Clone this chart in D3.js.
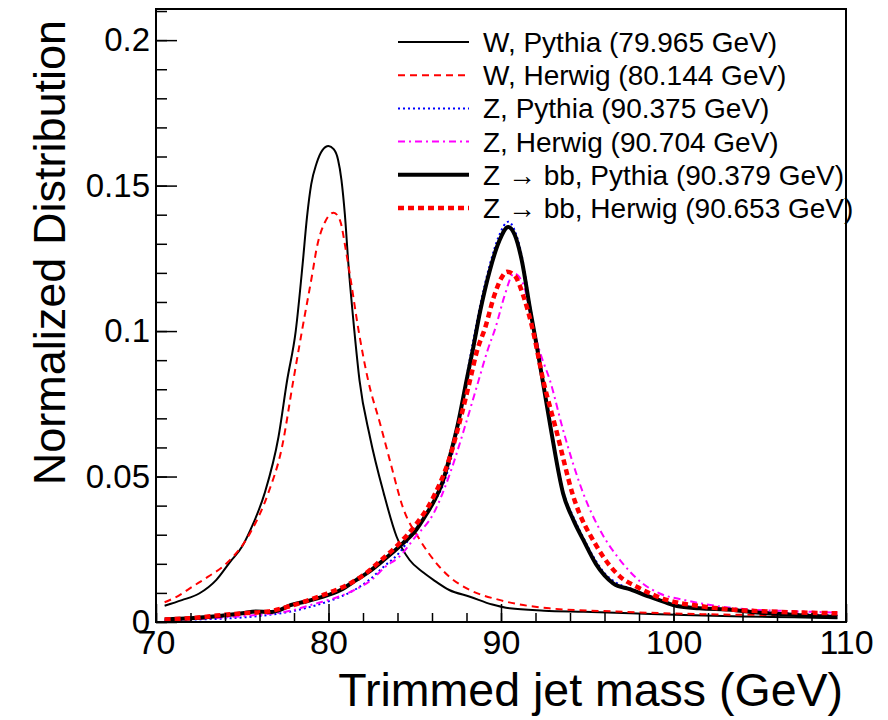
<!DOCTYPE html>
<html>
<head>
<meta charset="utf-8">
<script src="https://cdn.jsdelivr.net/npm/d3@7"></script>
<style>
  body { margin: 0; background: #fff; }
  text { font-family: "Liberation Sans", Arial, Helvetica, sans-serif; fill: #000; }
</style>
</head>
<body>
<svg id="chart" width="888" height="720"></svg>
<script>
// Series values: [mass (GeV), normalized entries]
const wPythia = [
  [70.5, .0056], [71.5, .0075], [72.5, .0098], [73.5, .0145], [74.3, .0207], [75.0, .026],
  [75.5, .032], [76.3, .0443], [77.1, .0636], [77.6, .083], [78.1, .100], [78.5, .123],
  [78.75, .139], [79.0, .1505], [79.3, .1575], [79.65, .1622], [80.0, .1636], [80.3, .1625],
  [80.55, .1590], [80.75, .152], [80.95, .140], [81.15, .1233], [81.5, .100], [81.8, .083],
  [82.4, .0637], [83.2, .0443], [83.95, .0293], [84.7, .0213], [85.5, .017], [86.1, .0144],
  [87.0, .011], [88.2, .0087], [89.5, .006], [90.5, .0047], [92.5, .0039], [94.8, .0035],
  [97.5, .003], [100.6, .0024], [104, .0019], [107, .0016], [109.5, .0013]
];
const wHerwig = [
  [70.5, .0068], [71.3, .009], [72.1, .0121], [73.0, .0155], [74.1, .0202], [75.45, .0305],
  [76.5, .0442], [77.3, .060], [77.96, .083], [78.46, .100], [79.1, .121], [79.3, .128],
  [79.8, .1375], [80.3, .1407], [80.67, .138], [81.0, .128], [81.25, .119], [81.75, .100],
  [82.3, .083], [83.0, .068], [83.6, .0546], [84.3, .0396], [85.3, .0282], [86.27, .0201],
  [87.0, .0156], [88.2, .011], [89.9, .0076], [92.8, .0047], [96.7, .0036], [102.5, .0026],
  [106, .0024], [109.5, .0022]
];
const zPythia = [
  [70.5, .0005], [72, .0008], [74, .0012], [75.5, .0018], [77, .0028], [78.5, .0045],
  [79.3, .0058], [80.5, .0082], [81.5, .011], [82.3, .0142], [83.2, .019], [84.2, .0245],
  [85.1, .0327], [86.1, .041], [86.7, .048], [87.1, .056], [87.5, .067], [88.0, .084],
  [88.4, .097], [88.8, .109], [89.36, .123], [89.9, .133], [90.42, .1376], [90.8, .1345],
  [91.2, .126], [91.7, .108], [92.1, .095], [92.5, .081], [92.9, .067], [93.6, .045],
  [94.2, .036], [94.77, .029], [95.5, .021], [96.0, .0168], [96.6, .0138], [97.5, .0115],
  [98.6, .009], [99.5, .007], [100.2, .0058], [101.5, .005], [103.5, .0043], [106, .0032],
  [108, .0026], [109.5, .0022]
];
const zHerwig = [
  [70.5, .0008], [72, .001], [74, .0016], [76, .0025], [77.5, .0035], [79.3, .0064],
  [80.5, .0085], [81.5, .011], [82.5, .0145], [83.3, .019], [84.1, .0224], [85.0, .029],
  [86.1, .0374], [87.04, .051], [87.9, .067], [88.7, .083], [89.2, .093], [89.7, .1015],
  [90.2, .112], [90.75, .1198], [91.3, .116], [91.85, .1015], [92.3, .092], [92.84, .083],
  [93.6, .066], [94.2, .054], [94.77, .0442], [95.74, .0316], [96.9, .0213], [98.2, .0133],
  [99.2, .0098], [100.6, .0076], [102.5, .0055], [104.4, .0043], [107, .0037], [109.5, .0032]
];
const zbbPythia = [
  [70.5, .0009], [72, .0013], [73.5, .002], [75, .003], [75.8, .0036], [76.6, .0034],
  [77.2, .0042], [77.8, .0058], [78.8, .0072], [79.7, .0087], [80.7, .011], [81.6, .0144],
  [82.4, .0175], [83.2, .0213], [84.3, .027], [85.0, .031], [85.7, .0373], [86.2, .0425],
  [86.65, .0488], [87.04, .057], [87.5, .068], [88.0, .083], [88.4, .0946], [88.8, .107],
  [89.36, .121], [89.9, .131], [90.42, .1358], [90.8, .133], [91.2, .1244], [91.7, .107],
  [92.1, .094], [92.5, .080], [92.9, .066], [93.6, .0442], [94.2, .035], [94.77, .0282],
  [95.5, .020], [96.0, .016], [96.5, .0133], [97.5, .0112], [98.6, .0087], [99.5, .0068],
  [100.2, .0055], [101.5, .0047], [103.5, .0041], [104.5, .0034], [106, .0028], [108, .0021],
  [109.5, .0017]
];
const zbbHerwig = [
  [70.5, .0009], [72, .0013], [73.5, .0022], [75, .003], [76.5, .0036], [77.5, .005],
  [78.5, .0068], [79.7, .0093], [81, .0125], [82, .016], [83, .021], [84.1, .027],
  [85, .033], [86, .042], [87.04, .0568], [87.7, .071], [88.2, .083], [88.6, .093],
  [89.1, .1015], [89.6, .112], [90.0, .118], [90.35, .1204], [90.8, .119], [91.3, .112],
  [91.8, .1015], [92.45, .083], [93.2, .066], [94.2, .043], [95.55, .026], [96.9, .0156],
  [97.87, .0121], [99.6, .0076], [101.5, .0055], [103.5, .0042], [106, .0035], [109.5, .003]
];

const legendLabels = [
  "W, Pythia (79.965 GeV)",
  "W, Herwig (80.144 GeV)",
  "Z, Pythia (90.375 GeV)",
  "Z, Herwig (90.704 GeV)",
  "Z \u2192 bb, Pythia (90.379 GeV)",
  "Z \u2192 bb, Herwig (90.653 GeV)"
];
const xTicks = [70, 80, 90, 100, 110];
const yTicks = [0, 0.05, 0.1, 0.15, 0.2];
const yTickLabels = ["0", "0.05", "0.1", "0.15", "0.2"];

// drawing styles for each series
const series = [
  {data: wPythia,   color: "#000", width: 2,   dash: null},
  {data: wHerwig,   color: "#f00", width: 2,   dash: "7,5"},
  {data: zPythia,   color: "#00f", width: 2,   dash: "2,3"},
  {data: zHerwig,   color: "#f0f", width: 2,   dash: "7,4,2,4"},
  {data: zbbPythia, color: "#000", width: 4,   dash: null},
  {data: zbbHerwig, color: "#f00", width: 4.5, dash: "6,4"}
];

const svg = d3.select("#chart");
const margin = {top: 9, right: 42, bottom: 98, left: 156};
const width = +svg.attr("width"), height = +svg.attr("height");

const x = d3.scaleLinear().domain([70, 110]).range([margin.left, width - margin.right]);
const y = d3.scaleLinear().domain([0, 0.2107]).range([height - margin.bottom, margin.top]);

svg.append("rect").attr("width", width).attr("height", height).attr("fill", "#fff");

svg.append("clipPath").attr("id", "plot")
  .append("rect")
  .attr("x", margin.left).attr("y", margin.top)
  .attr("width", x(110) - margin.left).attr("height", y(0) - margin.top);

// curves
const line = d3.line()
  .x(d => x(d[0]))
  .y(d => y(d[1]))
  .curve(d3.curveMonotoneX);

svg.append("g").attr("clip-path", "url(#plot)")
  .selectAll("path")
  .data(series)
  .join("path")
  .attr("fill", "none")
  .attr("stroke", d => d.color)
  .attr("stroke-width", d => d.width)
  .attr("stroke-dasharray", d => d.dash)
  .attr("stroke-linejoin", "round")
  .attr("d", d => line(d.data));

// minor ticks
const xMinor = d3.range(70, 110.01, 2);
const yMinor = d3.range(0, 0.2101, 0.01);

svg.append("g")
  .attr("transform", `translate(0,${y(0)})`)
  .call(d3.axisBottom(x).tickValues(xMinor).tickSize(-9).tickFormat(""))
  .call(g => g.select(".domain").remove())
  .call(g => g.selectAll("line").attr("stroke-width", 1.5));

svg.append("g")
  .attr("transform", `translate(${x(70)},0)`)
  .call(d3.axisLeft(y).tickValues(yMinor).tickSize(-11).tickFormat(""))
  .call(g => g.select(".domain").remove())
  .call(g => g.selectAll("line").attr("stroke-width", 1.5));

// major ticks + labels
svg.append("g")
  .attr("transform", `translate(0,${y(0)})`)
  .call(d3.axisBottom(x).tickValues(xTicks).tickSize(-18).tickSizeOuter(0).tickPadding(8))
  .call(g => g.select(".domain").remove())
  .call(g => g.selectAll("line").attr("stroke-width", 1.5))
  .call(g => g.selectAll("text").attr("font-size", 34).attr("font-family", null));

svg.append("g")
  .attr("transform", `translate(${x(70)},0)`)
  .call(d3.axisLeft(y).tickValues(yTicks).tickSize(-21).tickSizeOuter(0).tickPadding(6)
    .tickFormat((d, i) => yTickLabels[i]))
  .call(g => g.select(".domain").remove())
  .call(g => g.selectAll("line").attr("stroke-width", 1.5))
  .call(g => g.selectAll("text").attr("font-size", 33).attr("font-family", null));

// frame
svg.append("rect")
  .attr("x", x(70)).attr("y", y.range()[1])
  .attr("width", x(110) - x(70)).attr("height", y(0) - y.range()[1])
  .attr("fill", "none").attr("stroke", "#000").attr("stroke-width", 2);

// axis titles
svg.append("text")
  .attr("x", 843).attr("y", 706)
  .attr("text-anchor", "end")
  .attr("font-size", 46.5)
  .text("Trimmed jet mass (GeV)");

svg.append("text")
  .attr("transform", "translate(65,20) rotate(-90)")
  .attr("text-anchor", "end")
  .attr("font-size", 45)
  .text("Normalized Distribution");

// legend
const legend = svg.append("g");
const rowY = i => 42 + i * 33.2;
legend.selectAll("line")
  .data(series)
  .join("line")
  .attr("x1", 398).attr("x2", 469)
  .attr("y1", (d, i) => rowY(i)).attr("y2", (d, i) => rowY(i))
  .attr("stroke", d => d.color)
  .attr("stroke-width", d => d.width)
  .attr("stroke-dasharray", d => d.dash);

legend.selectAll("text")
  .data(legendLabels)
  .join("text")
  .attr("x", 483).attr("y", (d, i) => rowY(i))
  .attr("dy", "0.36em")
  .attr("font-size", 28)
  .text(d => d);
</script>
</body>
</html>
